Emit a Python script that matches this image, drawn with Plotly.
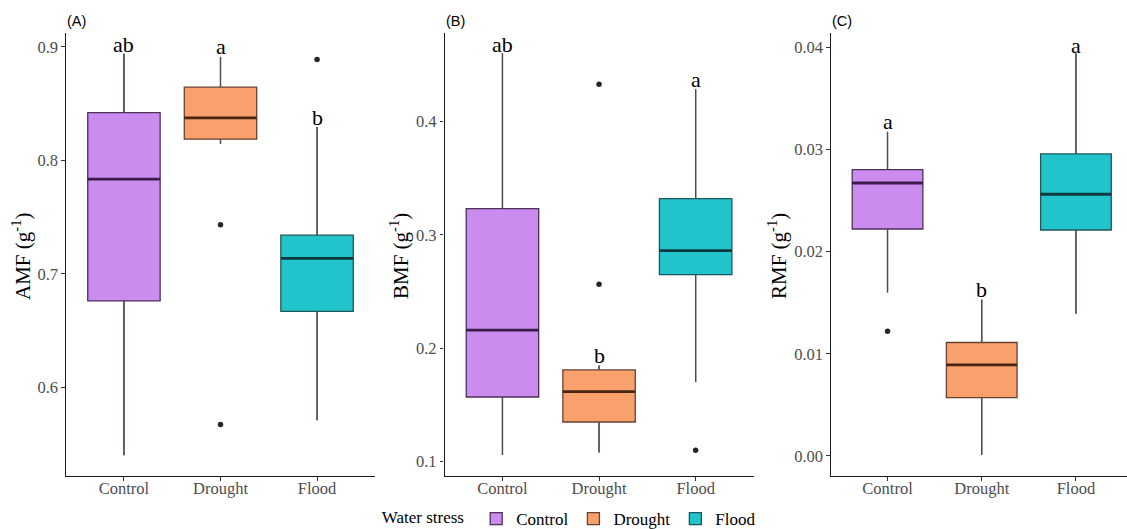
import plotly.graph_objects as go

categories = ["Control", "Drought", "Flood"]
positions = [1, 2, 3]

# Box statistics per treatment (Control, Drought, Flood)
amf_lower = [0.540, 0.8145, 0.5707]
amf_q1 = [0.676, 0.8187, 0.6668]
amf_median = [0.7834, 0.8374, 0.7136]
amf_q3 = [0.842, 0.8645, 0.734]
amf_upper = [0.894, 0.891, 0.8293]
amf_outliers = [[], [0.7432, 0.567], [0.889]]
amf_letters = ["ab", "a", "b"]
amf_letter_y = [0.902, 0.900, 0.838]

bmf_lower = [0.106, 0.108, 0.1703]
bmf_q1 = [0.157, 0.135, 0.2649]
bmf_median = [0.216, 0.1618, 0.2861]
bmf_q3 = [0.323, 0.1809, 0.3318]
bmf_upper = [0.460, 0.1847, 0.4282]
bmf_outliers = [[], [0.4326, 0.2564], [0.1101]]
bmf_letters = ["ab", "b", "a"]
bmf_letter_y = [0.468, 0.1932, 0.4364]

rmf_lower = [0.0160, 0.0001, 0.0139]
rmf_q1 = [0.0222, 0.0057, 0.0221]
rmf_median = [0.0267, 0.0089, 0.0256]
rmf_q3 = [0.0280, 0.0111, 0.02954]
rmf_upper = [0.0317, 0.0153, 0.0394]
rmf_outliers = [[0.0122], [], []]
rmf_letters = ["a", "b", "a"]
rmf_letter_y = [0.0327, 0.0163, 0.0401]

fill_colors = ["#CB8BEF", "#F9A06C", "#22C4CC"]
edge_colors = ["#4a3258", "#664230", "#1f5659"]
median_colors = ["#3a1c4a", "#4a2412", "#0d3a3d"]
whisker_color = "#4d4d4d"

panels = [
    dict(tag="(A)", title="AMF (g<sup>-1</sup>)", lower=amf_lower, q1=amf_q1, med=amf_median,
         q3=amf_q3, upper=amf_upper, out=amf_outliers, letters=amf_letters, ly=amf_letter_y,
         xdom=[66 / 1127, 375 / 1127], xrange=[0.4, 3.6], yrange=[0.5216, 0.9123],
         tickvals=[0.6, 0.7, 0.8, 0.9], ticktext=["0.6", "0.7", "0.8", "0.9"], title_x=22),
    dict(tag="(B)", title="BMF (g<sup>-1</sup>)", lower=bmf_lower, q1=bmf_q1, med=bmf_median,
         q3=bmf_q3, upper=bmf_upper, out=bmf_outliers, letters=bmf_letters, ly=bmf_letter_y,
         xdom=[444.5 / 1127, 753.6 / 1127], xrange=[0.4, 3.6], yrange=[0.0874, 0.4778],
         tickvals=[0.1, 0.2, 0.3, 0.4], ticktext=["0.1", "0.2", "0.3", "0.4"], title_x=400),
    dict(tag="(C)", title="RMF (g<sup>-1</sup>)", lower=rmf_lower, q1=rmf_q1, med=rmf_median,
         q3=rmf_q3, upper=rmf_upper, out=rmf_outliers, letters=rmf_letters, ly=rmf_letter_y,
         xdom=[831 / 1127, 1.0], xrange=[0.4, 3.542], yrange=[-0.00196, 0.04137],
         tickvals=[0.0, 0.01, 0.02, 0.03, 0.04], ticktext=["0.00", "0.01", "0.02", "0.03", "0.04"],
         title_x=778),
]

W, H = 1127, 529
y_dom = [1 - 476 / H, 1 - 33 / H]
serif = "Liberation Serif, Times New Roman, serif"
sans = "Liberation Sans, Arial, sans-serif"
box_width = 0.75

fig = go.Figure()
annotations = []
layout_axes = {}

for p_i, p in enumerate(panels):
    suffix = "" if p_i == 0 else str(p_i + 1)
    xa, ya = "x" + suffix, "y" + suffix
    for i, cat in enumerate(categories):
        fig.add_trace(go.Box(
            x=[positions[i]], q1=[p["q1"][i]], median=[p["med"][i]], q3=[p["q3"][i]],
            lowerfence=[p["lower"][i]], upperfence=[p["upper"][i]],
            width=box_width, whiskerwidth=0, boxpoints=False,
            fillcolor=fill_colors[i], line=dict(color=edge_colors[i], width=1.3),
            name=cat, legendgroup=cat, showlegend=(p_i == 0),
            hoverinfo="skip", xaxis=xa, yaxis=ya,
        ))
        # neutral grey whiskers
        fig.add_trace(go.Scatter(
            x=[positions[i], positions[i], None, positions[i], positions[i]],
            y=[p["lower"][i], p["q1"][i], None, p["q3"][i], p["upper"][i]],
            mode="lines", line=dict(color=whisker_color, width=1.2),
            showlegend=False, hoverinfo="skip", xaxis=xa, yaxis=ya,
        ))
        # thicker median bar
        fig.add_trace(go.Scatter(
            x=[positions[i] - box_width / 2, positions[i] + box_width / 2],
            y=[p["med"][i], p["med"][i]], mode="lines",
            line=dict(color=median_colors[i], width=2.8),
            showlegend=False, hoverinfo="skip", xaxis=xa, yaxis=ya,
        ))
        if p["out"][i]:
            fig.add_trace(go.Scatter(
                x=[positions[i]] * len(p["out"][i]), y=p["out"][i], mode="markers",
                marker=dict(color="#262626", size=5.5),
                showlegend=False, hoverinfo="skip", xaxis=xa, yaxis=ya,
            ))
        annotations.append(dict(
            x=positions[i], y=p["ly"][i], xref=xa, yref=ya, text=p["letters"][i],
            showarrow=False, xanchor="center", yanchor="middle",
            font=dict(family=serif, size=22, color="black"),
        ))

    annotations.append(dict(
        x=p["xdom"][0] - 1 / W, y=1 - 21 / H, xref="paper", yref="paper", text=p["tag"],
        showarrow=False, xanchor="left", yanchor="middle",
        font=dict(family=sans, size=14.5, color="black"),
    ))
    annotations.append(dict(
        x=p["title_x"] / W, y=1 - 256 / H, xref="paper", yref="paper", text=p["title"],
        showarrow=False, xanchor="center", yanchor="middle", textangle=-90,
        font=dict(family=serif, size=21, color="black"),
    ))

    axis_common = dict(showgrid=False, zeroline=False, showline=True, linecolor="#1a1a1a",
                       linewidth=1.2, ticks="outside", ticklen=3.5, tickwidth=1.1,
                       tickcolor="#333333", automargin=False,
                       tickfont=dict(family=serif, size=16.5, color="#4d4d4d"))
    layout_axes["xaxis" + suffix] = dict(
        domain=p["xdom"], range=p["xrange"], tickvals=positions, ticktext=categories,
        anchor=ya, ticklabelstandoff=-6, **axis_common)
    layout_axes["yaxis" + suffix] = dict(
        domain=y_dom, range=p["yrange"], tickvals=p["tickvals"], ticktext=p["ticktext"],
        anchor=xa, **axis_common)

fig.update_layout(
    width=W, height=H,
    margin=dict(l=0, r=0, t=0, b=0, autoexpand=False),
    paper_bgcolor="white", plot_bgcolor="white",
    annotations=annotations,
    legend=dict(
        orientation="h", x=0.506, xanchor="center", y=1 - 519 / H, yanchor="middle",
        bgcolor="rgba(0,0,0,0)",
        title=dict(text="Water stress ", side="left",
                   font=dict(family=serif, size=17, color="black")),
        font=dict(family=serif, size=17, color="black"),
        itemwidth=30, tracegroupgap=0,
    ),
    **layout_axes,
)

fig.write_html("out.html")
